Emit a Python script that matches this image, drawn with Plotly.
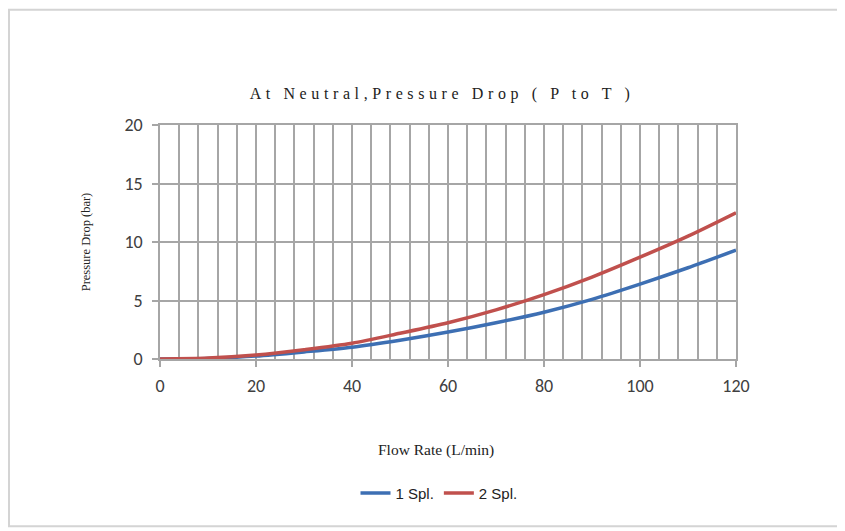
import plotly.graph_objects as go

flow = [0, 10, 20, 30, 40, 50, 60, 70, 80, 90, 100, 110, 120]
spl1 = [0, 0.05, 0.25, 0.6, 1.0, 1.6, 2.3, 3.1, 4.0, 5.1, 6.4, 7.8, 9.3]
spl2 = [0, 0.08, 0.35, 0.8, 1.35, 2.2, 3.1, 4.2, 5.5, 7.0, 8.7, 10.5, 12.5]
names = ["1 Spl.", "2 Spl."]
colors = ["#3d6fb3", "#c0504d"]

fig = go.Figure()
for name, ys, col in zip(names, [spl1, spl2], colors):
    fig.add_trace(go.Scatter(x=flow, y=ys, mode="lines", name=name,
                             line=dict(color=col, width=3.5, shape="spline", smoothing=0.8)))

grid = "#a6a6a6"
serif = "Liberation Serif, Times New Roman, serif"
sans = "Liberation Sans, Arial, sans-serif"
tickf = "Carlito, Liberation Sans, sans-serif"

# plot area in page px: x 160..736, y 125..359.5 (page has 8px body margin)
PX0, PX1, PY0, PY1 = 160, 736, 359.5, 125
W, H = PX1 - PX0, PY0 - PY1


def px(x):
    return (x - PX0) / W


def py(y):
    return (PY0 - y) / H


fig.update_layout(
    width=845, height=531,
    margin=dict(l=PX0 - 8, r=845 - (PX1 - 8), t=PY1 - 8, b=531 - (PY0 - 8)),
    paper_bgcolor="white", plot_bgcolor="white",
    title=dict(text='<span style="letter-spacing:4.6px">At Neutral,Pressure Drop ( P to T )</span>',
               x=px(442), xref="paper", xanchor="center",
               y=1 - (93 - 8) / 531, yanchor="middle",
               font=dict(family=serif, size=16, color="#222222")),
    showlegend=True,
    legend=dict(orientation="h", x=px(439), xanchor="center",
                y=py(494), yanchor="middle",
                font=dict(family=sans, size=15, color="#222222"),
                tracegroupgap=0),
    xaxis=dict(range=[0, 120], dtick=20, tick0=0,
               showgrid=True, gridcolor=grid, gridwidth=1.5,
               minor=dict(dtick=4, showgrid=True, gridcolor=grid, gridwidth=1.5),
               ticks="outside", ticklen=6, tickcolor=grid, tickwidth=1.5,
               ticklabelstandoff=4,
               showline=True, linecolor=grid, linewidth=1.5, mirror=True,
               zeroline=False,
               tickfont=dict(family=tickf, size=18, color="#404040")),
    yaxis=dict(range=[0, 20], dtick=5, tick0=0,
               showgrid=True, gridcolor=grid, gridwidth=1.5,
               ticks="outside", ticklen=6, tickcolor=grid, tickwidth=1.5,
               ticklabelstandoff=6,
               showline=True, linecolor=grid, linewidth=1.5, mirror=True,
               zeroline=False,
               tickfont=dict(family=tickf, size=18, color="#404040"),
               title=dict(text="Pressure Drop (bar)", standoff=31,
                          font=dict(family=serif, size=12.5, color="#222222"))),
    annotations=[dict(text="Flow Rate (L/min)", xref="paper", yref="paper",
                      x=px(436), y=py(451), xanchor="center", yanchor="middle",
                      showarrow=False,
                      font=dict(family=serif, size=15.5, color="#222222"))],
    shapes=[dict(type="rect", xref="paper", yref="paper",
                 x0=px(9), x1=px(843),
                 y0=py(527), y1=py(9.5),
                 line=dict(color="#d4d4d4", width=2), layer="below")],
)

fig.write_html("out.html")
